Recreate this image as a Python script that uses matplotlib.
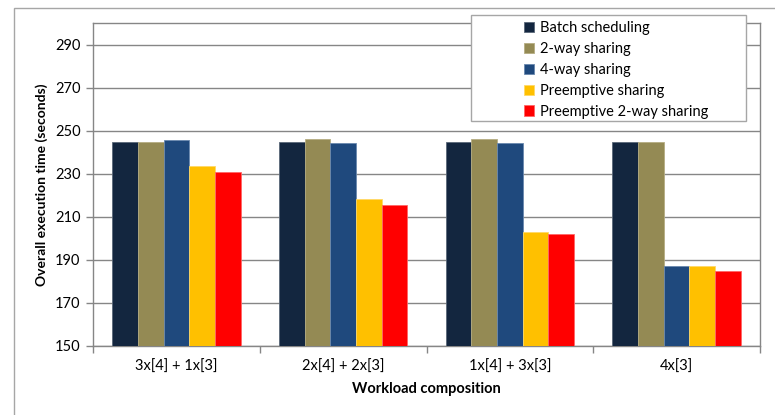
import numpy as np
import matplotlib
matplotlib.use("Agg")
import matplotlib.pyplot as plt
from matplotlib.patches import Rectangle

plt.rcParams['font.family'] = ['Lato', 'DejaVu Sans']

# Data
categories = ["3x[4] + 1x[3]", "2x[4] + 2x[3]", "1x[4] + 3x[3]", "4x[3]"]
series_names = ["Batch scheduling", "2-way sharing", "4-way sharing",
                "Preemptive sharing", "Preemptive 2-way sharing"]
batch = [244.9, 244.6, 244.6, 244.5]
two_way = [244.5, 245.9, 245.9, 244.5]
four_way = [245.4, 244.1, 244.1, 187.0]
preemptive = [233.6, 218.1, 202.7, 186.9]
preemptive_two_way = [230.7, 215.2, 201.9, 184.5]
y_ticks = [150, 170, 190, 210, 230, 250, 270, 290]

series = [batch, two_way, four_way, preemptive, preemptive_two_way]
colors = ["#13263F", "#948A54", "#1F497D", "#FFC000", "#FF0000"]
edges = ["#5A6878", "#B5AD82", "#6A88AE", "#FFD966", "#FF6666"]

fig = plt.figure(figsize=(7.75, 4.15), dpi=100)
ax = fig.add_axes([93 / 775, 1 - 345.7 / 415, (760 - 93) / 775, (345.7 - 23) / 415])

# outer chart border (cropped at right/bottom)
fig.patches.append(Rectangle((14 / 775, -0.1), 1.2, 1 - 8 / 415 + 0.1,
                             transform=fig.transFigure, fill=False,
                             edgecolor="#A6A6A6", linewidth=1.0, zorder=0))

n = len(series)
bar_w = 1 / (n + 1.5)
x = np.arange(len(categories))
for i, (vals, c, ec) in enumerate(zip(series, colors, edges)):
    offs = (i - (n - 1) / 2) * bar_w
    ax.bar(x + offs, [v - 150 for v in vals], bar_w, bottom=150, color=c,
           edgecolor=ec, linewidth=0.6, label=series_names[i], zorder=3)

ax.set_xlim(-0.5, len(categories) - 0.5)
ax.set_ylim(150, 300)
ax.set_yticks(y_ticks)
ax.yaxis.grid(True, color="#868686", linewidth=1.0, zorder=0)
ax.set_xticks(x)
ax.set_xticklabels(categories, fontsize=10.5)
ax.set_xticks(np.arange(len(categories) + 1) - 0.5, minor=True)
ax.tick_params(axis="x", which="major", length=0, pad=10)
ax.tick_params(axis="x", which="minor", length=5, color="#868686", width=1)
ax.tick_params(axis="y", length=5, color="#868686", width=1, labelsize=10.5, pad=4)

for side in ["left", "bottom", "top", "right"]:
    ax.spines[side].set_color("#868686")
    ax.spines[side].set_linewidth(1.0)

ax.set_ylabel("Overall execution time (seconds)", fontsize=10, fontweight="bold", labelpad=5)
ax.set_xlabel("Workload composition", fontsize=10.5, fontweight="bold", labelpad=6)

# legend box
fig.patches.append(Rectangle((471 / 775, 1 - 121 / 415), 275 / 775, 106 / 415,
                             transform=fig.transFigure, facecolor="white",
                             edgecolor="#A6A6A6", linewidth=1.0, zorder=5))
leg = fig.legend(loc="upper left", bbox_to_anchor=(514 / 775, 1 - 11 / 415),
                 frameon=False, fontsize=10.5, handlelength=0.7, handleheight=0.7,
                 handletextpad=0.35, labelspacing=0.47, borderpad=0.2)
leg.set_zorder(6)

fig.savefig("out.png", dpi=100)
